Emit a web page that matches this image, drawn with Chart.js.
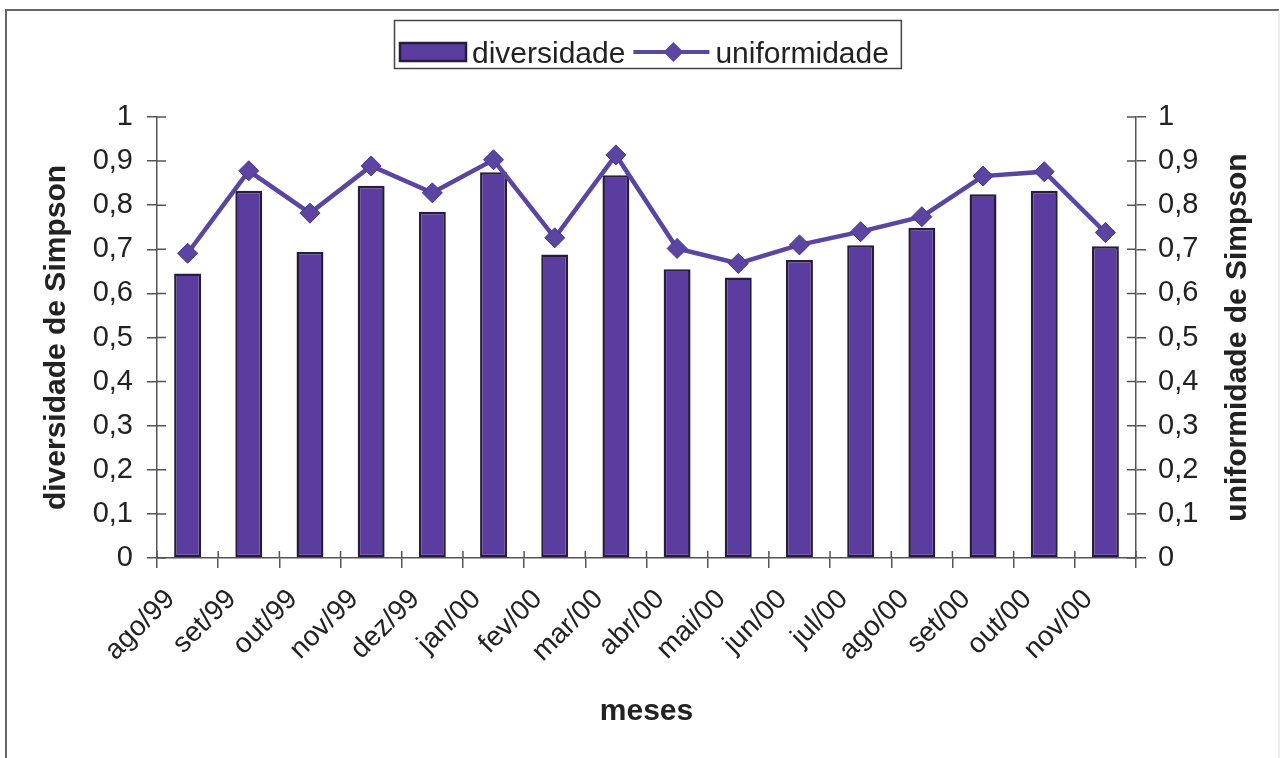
<!DOCTYPE html>
<html>
<head>
<meta charset="utf-8">
<script src="https://cdn.jsdelivr.net/npm/chart.js@4/dist/chart.umd.min.js"></script>
<style>
  html, body { margin: 0; padding: 0; background: #fff; overflow: hidden; }
  canvas { display: block; }
</style>
</head>
<body>
<canvas id="grafico" width="1281" height="758"></canvas>
<script>
// dados
const categories = ["ago/99", "set/99", "out/99", "nov/99", "dez/99", "jan/00", "fev/00", "mar/00",
                    "abr/00", "mai/00", "jun/00", "jul/00", "ago/00", "set/00", "out/00", "nov/00"];
const diversidade = [0.645, 0.833, 0.694, 0.844, 0.785, 0.875, 0.688, 0.868,
                     0.655, 0.636, 0.676, 0.709, 0.749, 0.825, 0.833, 0.707];
const uniformidade = [0.691, 0.878, 0.782, 0.889, 0.828, 0.903, 0.726, 0.914,
                      0.702, 0.668, 0.710, 0.740, 0.774, 0.866, 0.876, 0.738];
const yTickLabels = ["0", "0,1", "0,2", "0,3", "0,4", "0,5", "0,6", "0,7", "0,8", "0,9", "1"];
const seriesNames = ["diversidade", "uniformidade"];

const FONT = '"Liberation Sans", Arial, sans-serif';
const textColor = "#222";
const axisColor = "#555";
const barColor = "#5a3d9e";
const barEdge = "#261d3d";
const lineColor = "#5b44a2";

// moldura, ticks internos, legenda e título do eixo direito
const extras = {
  id: "extras",
  beforeDraw(chart) {
    const ctx = chart.ctx;
    ctx.save();
    ctx.fillStyle = "#fff";
    ctx.fillRect(0, 0, chart.width, chart.height);
    ctx.strokeStyle = "#666";
    ctx.lineWidth = 2;
    ctx.beginPath();
    ctx.moveTo(6, chart.height);
    ctx.lineTo(6, 10);
    ctx.lineTo(1279, 10);
    ctx.stroke();
    ctx.strokeStyle = "#ddd";
    ctx.lineWidth = 1;
    ctx.beginPath();
    ctx.moveTo(1279, 10);
    ctx.lineTo(1279, chart.height);
    ctx.stroke();
    ctx.restore();
  },
  afterDraw(chart) {
    const ctx = chart.ctx;
    const area = chart.chartArea;
    const sx = chart.scales.x, sy = chart.scales.y, sy1 = chart.scales.y1;
    ctx.save();
    // ticks para dentro
    ctx.strokeStyle = axisColor;
    ctx.lineWidth = 1.5;
    ctx.beginPath();
    sy.ticks.forEach((t, i) => {
      const p = sy.getPixelForTick(i);
      ctx.moveTo(area.left, p); ctx.lineTo(area.left + 9, p);
    });
    sy1.ticks.forEach((t, i) => {
      const p = sy1.getPixelForTick(i);
      ctx.moveTo(area.right, p); ctx.lineTo(area.right - 9, p);
    });
    for (let i = 0; i <= categories.length; i++) {
      const p = sx.getPixelForValue(i - 0.5);
      ctx.moveTo(p, area.bottom); ctx.lineTo(p, area.bottom - 7);
    }
    ctx.stroke();

    // título do eixo direito (lido de baixo para cima)
    ctx.save();
    ctx.translate(1238, (area.top + area.bottom) / 2);
    ctx.rotate(-Math.PI / 2);
    ctx.font = "bold 30px " + FONT;
    ctx.fillStyle = textColor;
    ctx.textAlign = "center";
    ctx.textBaseline = "middle";
    ctx.fillText("uniformidade de Simpson", 0, 0);
    ctx.restore();

    // legenda
    ctx.font = "30px " + FONT;
    const w1 = ctx.measureText(seriesNames[0]).width;
    const w2 = ctx.measureText(seriesNames[1]).width;
    const total = 6 + 66 + 6 + w1 + 8 + 76 + 6 + w2 + 12;
    const cx = (area.left + area.right) / 2 + 1;
    let x = Math.round(cx - total / 2);
    const top = 20, h = 48;
    ctx.strokeStyle = "#444";
    ctx.lineWidth = 1.5;
    ctx.strokeRect(x + 0.5, top + 0.5, total, h);
    // amostra de barra
    ctx.fillStyle = barColor;
    ctx.fillRect(x + 6, 43, 66, 18);
    ctx.strokeStyle = barEdge;
    ctx.lineWidth = 2.5;
    ctx.strokeRect(x + 6, 43, 66, 18);
    ctx.fillStyle = textColor;
    ctx.textBaseline = "alphabetic";
    ctx.textAlign = "left";
    ctx.fillText(seriesNames[0], x + 78, 63);
    // amostra de linha
    const lx = x + 78 + w1 + 8;
    ctx.strokeStyle = lineColor;
    ctx.lineWidth = 4;
    ctx.beginPath();
    ctx.moveTo(lx, 52); ctx.lineTo(lx + 76, 52);
    ctx.stroke();
    const dx = lx + 40;
    ctx.beginPath();
    ctx.moveTo(dx, 42); ctx.lineTo(dx + 10, 52); ctx.lineTo(dx, 62); ctx.lineTo(dx - 10, 52);
    ctx.closePath();
    ctx.fillStyle = lineColor;
    ctx.fill();
    ctx.fillStyle = textColor;
    ctx.fillText(seriesNames[1], lx + 82, 63);
    ctx.restore();
  }
};

const ctx = document.getElementById("grafico").getContext("2d");

new Chart(ctx, {
  type: "bar",
  data: {
    labels: categories,
    datasets: [
      {
        type: "line",
        label: seriesNames[1],
        data: uniformidade,
        yAxisID: "y1",
        order: 0,
        borderColor: lineColor,
        borderWidth: 4.5,
        pointStyle: "rectRot",
        pointRadius: 10,
        pointBackgroundColor: lineColor,
        pointBorderColor: "#4a3590",
        pointBorderWidth: 1,
        tension: 0
      },
      {
        type: "bar",
        label: seriesNames[0],
        data: diversidade,
        yAxisID: "y",
        order: 1,
        backgroundColor: barColor,
        borderColor: barEdge,
        borderWidth: 2.5,
        borderSkipped: false,
        categoryPercentage: 1,
        barPercentage: 0.44
      }
    ]
  },
  options: {
    responsive: false,
    animation: false,
    layout: { padding: { top: 117, left: 39, right: 0, bottom: 28 } },
    plugins: {
      legend: { display: false },
      tooltip: { enabled: false }
    },
    scales: {
      x: {
        offset: true,
        grid: { display: true, drawOnChartArea: false, offset: true, tickLength: 10, color: axisColor, lineWidth: 1.5 },
        border: { display: true, color: axisColor, width: 1.5 },
        ticks: {
          autoSkip: false, maxRotation: 45, minRotation: 45,
          labelOffset: -17, padding: 15,
          color: textColor, font: { family: FONT, size: 28 }
        },
        title: { display: true, text: "meses", color: textColor, padding: 0, font: { family: FONT, size: 30, weight: "bold" } },
        afterFit(scale) { scale.height = 172; }
      },
      y: {
        position: "left",
        min: 0, max: 1,
        grid: { drawOnChartArea: false, tickLength: 10, color: axisColor, lineWidth: 1.5 },
        border: { display: true, color: axisColor, width: 1.5 },
        ticks: {
          stepSize: 0.1, padding: 14, color: textColor, font: { family: FONT, size: 29 },
          callback: (v, i) => yTickLabels[i]
        },
        title: { display: true, text: "diversidade de Simpson", color: textColor, padding: 0, font: { family: FONT, size: 30, weight: "bold" } },
        afterFit(scale) { scale.width = 118; }
      },
      y1: {
        position: "right",
        min: 0, max: 1,
        grid: { drawOnChartArea: false, tickLength: 10, color: axisColor, lineWidth: 1.5 },
        border: { display: true, color: axisColor, width: 1.5 },
        ticks: {
          stepSize: 0.1, padding: 12, color: textColor, font: { family: FONT, size: 29 },
          callback: (v, i) => yTickLabels[i]
        },
        afterFit(scale) { scale.width = 145; }
      }
    }
  },
  plugins: [extras]
});
</script>
</body>
</html>
